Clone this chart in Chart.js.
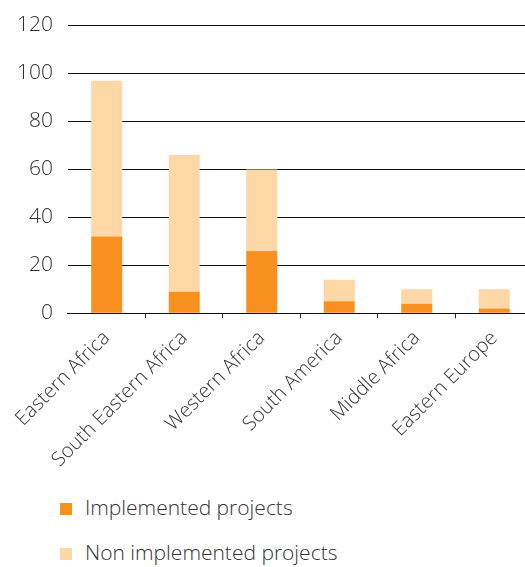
<!DOCTYPE html>
<html>
<head>
<meta charset="utf-8">
<script src="https://cdn.jsdelivr.net/npm/chart.js@4"></script>
<style>
  body { margin: 0; width: 525px; height: 567px; overflow: hidden; background: #fff; font-family: "Open Sans", sans-serif; }
  #wrap { position: absolute; left: 0; top: 0; width: 540px; height: 480px; }
  #legend { position: absolute; left: 60px; top: 493px; margin: 0; padding: 0; list-style: none; }
  #legend li { height: 45px; font-size: 21px; font-weight: 300; color: #333; display: flex; align-items: flex-start; }
  #legend span { display: inline-block; width: 12px; height: 12px; margin: 10px 13px 0 0; }
</style>
</head>
<body>
<div id="wrap"><canvas id="barChart" width="540" height="480"></canvas></div>
<ul id="legend"></ul>
<script>
// Projects by region
const regions = ['Eastern Africa', 'South Eastern Africa', 'Western Africa', 'South America', 'Middle Africa', 'Eastern Europe'];
const implemented = [32, 9, 26, 5, 4, 2];
const nonImplemented = [65, 57, 34, 9, 6, 8];
const yTicks = [0, 20, 40, 60, 80, 100, 120];

const orange = '#F7901E';
const lightOrange = '#FDD7A5';

const ctx = document.getElementById('barChart').getContext('2d');

const chart = new Chart(ctx, {
    type: 'bar',
    data: {
        labels: regions,
        datasets: [
            {
                label: 'Implemented projects',
                data: implemented,
                backgroundColor: orange,
                categoryPercentage: 1,
                barPercentage: 0.4
            },
            {
                label: 'Non implemented projects',
                data: nonImplemented,
                backgroundColor: lightOrange,
                categoryPercentage: 1,
                barPercentage: 0.4
            }
        ]
    },
    options: {
        responsive: false,
        animation: false,
        layout: { padding: { left: 2, top: 7, right: 7, bottom: 0 } },
        plugins: {
            legend: { display: false },
            tooltip: { enabled: false }
        },
        scales: {
            x: {
                stacked: true,
                grid: {
                    drawOnChartArea: false,
                    tickLength: 5,
                    color: function(c) { return c.index === 0 ? 'rgba(0,0,0,0)' : '#222'; }
                },
                border: { color: '#111', width: 1 },
                ticks: {
                    minRotation: 45,
                    maxRotation: 45,
                    padding: 8,
                    color: '#333',
                    font: { family: 'Open Sans', size: 20, weight: 300 }
                }
            },
            y: {
                stacked: true,
                min: 0,
                max: 120,
                afterBuildTicks: function(axis) {
                    axis.ticks = yTicks.map(function(v) { return { value: v }; });
                },
                grid: { drawTicks: false, color: '#111', lineWidth: 1 },
                border: { display: false },
                ticks: {
                    padding: 15,
                    color: '#333',
                    font: { family: 'Open Sans', size: 21, weight: 300, lineHeight: 1 }
                }
            }
        }
    }
});

// legend stacked vertically below the chart
const legend = document.getElementById('legend');
chart.data.datasets.forEach(function(ds) {
    const li = document.createElement('li');
    const box = document.createElement('span');
    box.style.background = ds.backgroundColor;
    li.appendChild(box);
    li.appendChild(document.createTextNode(ds.label));
    legend.appendChild(li);
});
</script>
</body>
</html>
